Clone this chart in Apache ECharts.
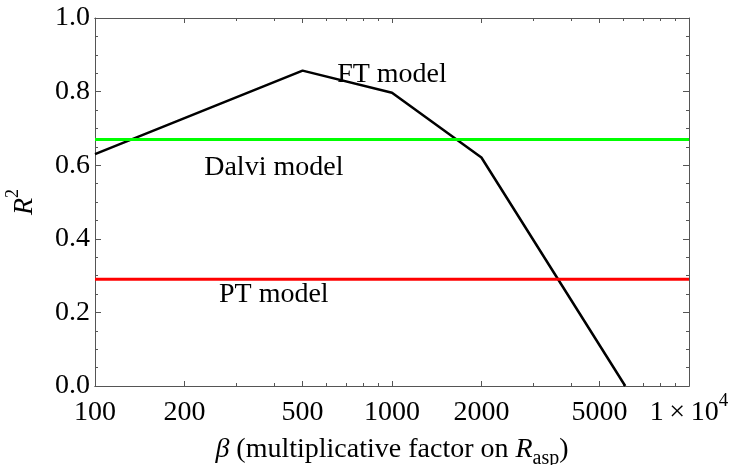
<!DOCTYPE html>
<html><head><meta charset="utf-8">
<script src="https://cdn.jsdelivr.net/npm/echarts@6/dist/echarts.min.js"></script>
<style>html,body{margin:0;padding:0;background:#fff}#c{width:730px;height:465px}</style>
</head><body><div id="c"></div>
<script>
// ---- data ----
const betaValues = [100, 500, 1000, 2000, 6100];
const ftR2 = [0.63, 0.857, 0.797, 0.621, 0.0];
const dalviR2 = 0.67;
const ptR2 = 0.29;
const betaRange = [100, 10000];
const xMajorTicks = [100, 200, 500, 1000, 2000, 5000, 10000];
const xMinorTicks = [300, 400, 600, 700, 800, 900, 3000, 4000, 6000, 7000, 8000, 9000];
const yRange = [0, 1];
const yStep = 0.2;
const modelLabels = ['FT model', 'Dalvi model', 'PT model'];
const labelBeta = [1000, 400, 400];
const labelR2 = [0.847, 0.594, 0.249];

// ---- chart ----
const FONT = '"Liberation Serif", "Times New Roman", serif';
const FRAME = '#555';

function xAx(pos, ticks, len, labels) {
  return {
    type: 'log', logBase: 10, min: betaRange[0], max: betaRange[1], position: pos, gridIndex: 0,
    axisLine: { show: true, onZero: false, lineStyle: { color: FRAME, width: 1 } },
    axisTick: { show: true, inside: true, length: len, customValues: ticks, lineStyle: { color: FRAME, width: 1 } },
    axisLabel: labels ? {
      show: true, customValues: xMajorTicks, margin: 6, color: '#000', fontFamily: FONT, fontSize: 28,
      formatter: function (v) {
        v = Math.round(v);
        if (v >= 10000) return '{n|1\u2009\u00d7\u200910}{sup|4}';
        return '{n|' + v + '}';
      },
      rich: {
        n: { fontFamily: FONT, fontSize: 28, color: '#000', verticalAlign: 'top', padding: [7, 0, 0, 0] },
        sup: { fontFamily: FONT, fontSize: 19, color: '#000', verticalAlign: 'top' }
      }
    } : { show: false },
    name: labels ? '{i|\u03b2}{n| (multiplicative factor on }{i|R}{sub|asp}{n|)}' : '',
    nameLocation: 'middle', nameGap: 50,
    nameTextStyle: {
      fontFamily: FONT, fontSize: 28, color: '#000',
      rich: {
        i: { fontFamily: FONT, fontSize: 28, fontStyle: 'italic', color: '#000', verticalAlign: 'bottom', padding: [0, 0, 5, 0] },
        n: { fontFamily: FONT, fontSize: 28, color: '#000', verticalAlign: 'bottom', padding: [0, 0, 5, 0] },
        sub: { fontFamily: FONT, fontSize: 20, color: '#000', verticalAlign: 'bottom' }
      }
    },
    splitLine: { show: false }, minorTick: { show: false }, minorSplitLine: { show: false }
  };
}

function yAx(pos, labels) {
  return {
    type: 'value', min: yRange[0], max: yRange[1], interval: yStep, position: pos, gridIndex: 0,
    axisLine: { show: true, onZero: false, lineStyle: { color: FRAME, width: 1 } },
    axisTick: { show: true, inside: true, length: 6, lineStyle: { color: FRAME, width: 1 } },
    minorTick: { show: true, splitNumber: 4, length: 3, lineStyle: { color: FRAME, width: 1 } },
    axisLabel: labels ? {
      show: true, margin: 5, color: '#000', fontFamily: FONT, fontSize: 28,
      formatter: function (v) { return v.toFixed(1); }
    } : { show: false },
    name: labels ? '{i|R}{sup|2}' : '',
    nameLocation: 'middle', nameRotate: 90, nameGap: 56,
    nameTextStyle: {
      fontFamily: FONT, fontSize: 28, color: '#000',
      rich: {
        i: { fontFamily: FONT, fontSize: 28, fontStyle: 'italic', color: '#000', verticalAlign: 'top', padding: [7, 0, 0, 0] },
        sup: { fontFamily: FONT, fontSize: 18, color: '#000', verticalAlign: 'top' }
      }
    },
    splitLine: { show: false }, minorSplitLine: { show: false }
  };
}

const chart = echarts.init(document.getElementById('c'), null, { renderer: 'canvas' });
chart.setOption({
  animation: false,
  backgroundColor: '#fff',
  grid: { left: 95, right: 41, top: 18, bottom: 79, containLabel: false, outerBoundsMode: 'none' },
  xAxis: [
    xAx('bottom', xMajorTicks, 5, true),
    xAx('bottom', xMinorTicks, 3, false),
    xAx('top', xMajorTicks, 5, false),
    xAx('top', xMinorTicks, 3, false)
  ],
  yAxis: [yAx('left', true), yAx('right', false)],
  series: [
    {
      type: 'line', xAxisIndex: 0, yAxisIndex: 0, symbol: 'none', silent: true,
      data: betaValues.map((b, i) => [b, ftR2[i]]),
      lineStyle: { color: '#000', width: 2.5 }
    },
    {
      type: 'line', xAxisIndex: 0, yAxisIndex: 0, symbol: 'none', silent: true,
      data: betaRange.map(b => [b, dalviR2]),
      lineStyle: { color: '#00ff00', width: 3 }
    },
    {
      type: 'line', xAxisIndex: 0, yAxisIndex: 0, symbol: 'none', silent: true,
      data: betaRange.map(b => [b, ptR2]),
      lineStyle: { color: '#ff0000', width: 3 }
    },
    {
      type: 'scatter', xAxisIndex: 0, yAxisIndex: 0, symbolSize: 0, silent: true,
      itemStyle: { color: '#000', opacity: 1 },
      data: modelLabels.map((n, i) => ({ name: n, value: [labelBeta[i], labelR2[i]] })),
      label: { show: true, position: 'inside', formatter: '{b}', color: '#000', opacity: 1,
               textBorderWidth: 0, fontFamily: FONT, fontSize: 28 }
    }
  ]
});
</script>
</body></html>
